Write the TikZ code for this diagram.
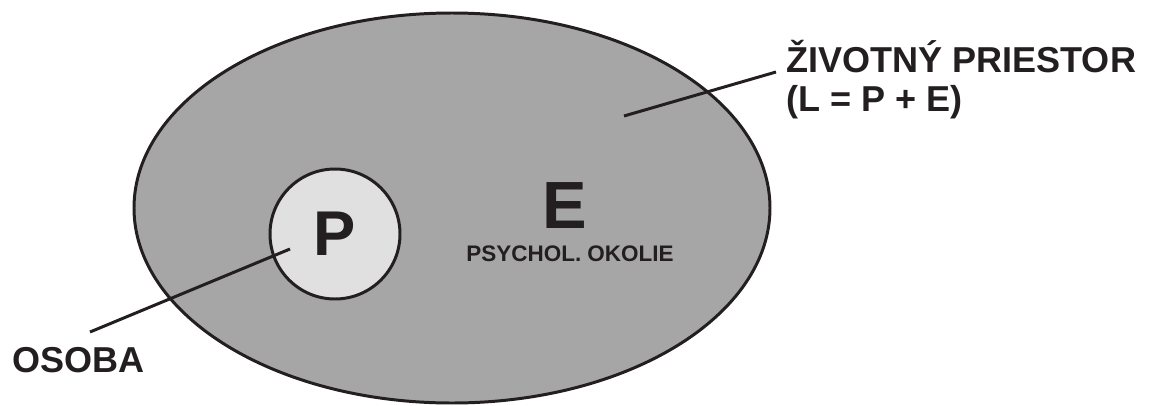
\documentclass[tikz,border=0pt]{standalone}
\usepackage{fontspec}
\setmainfont{Liberation Sans}
\usepackage{xcolor}
\usepackage{tikz}
\usetikzlibrary{positioning, shapes.geometric}

\definecolor{spacegray}{HTML}{A6A6A6}
\definecolor{persongray}{HTML}{E0E0E0}
\definecolor{inkblack}{HTML}{231F20}

\begin{document}
\begin{tikzpicture}[
    region/.style={ellipse, draw=inkblack, line width=1.7pt, inner sep=0pt},
    lbl/.style={font=\bfseries\fontsize{20.5}{22}\selectfont, text=inkblack, inner sep=0pt},
    lead/.style={draw=inkblack, line width=1.7pt},
]
\useasboundingbox (0,0) rectangle (23.14,8.1);

\node[region, fill=spacegray, minimum width=12.72cm, minimum height=7.8cm] (space) at (9.04,3.94) {};
\node[region, circle, fill=persongray, minimum size=2.6cm,
      font=\bfseries\fontsize{36}{36}\selectfont, text=inkblack] (person) at (6.70,3.42) {P};

\node[font=\bfseries\fontsize{38}{38}\selectfont, text=inkblack, inner sep=0pt] (env) at (11.30,3.98) {E};
\node[font=\bfseries\fontsize{12.8}{13}\selectfont, text=inkblack, inner sep=0pt] (envtext) at (11.40,3.02) {PSYCHOL. OKOLIE};

\node[lbl, anchor=west] (osoba) at (0.24,0.90) {OSOBA};
\node[lbl, anchor=north west, align=left] (lifespace) at (15.72,7.30) {ŽIVOTNÝ PRIESTOR\\(L = P + E)};

\coordinate (pin)  at (5.80,3.12);
\coordinate (pout) at (1.80,1.46);
\coordinate (sin)  at (12.48,5.78);
\coordinate (sout) at (15.52,6.66);

\draw[lead] (pin) -- (pout);
\draw[lead] (sin) -- (sout);
\end{tikzpicture}
\end{document}
